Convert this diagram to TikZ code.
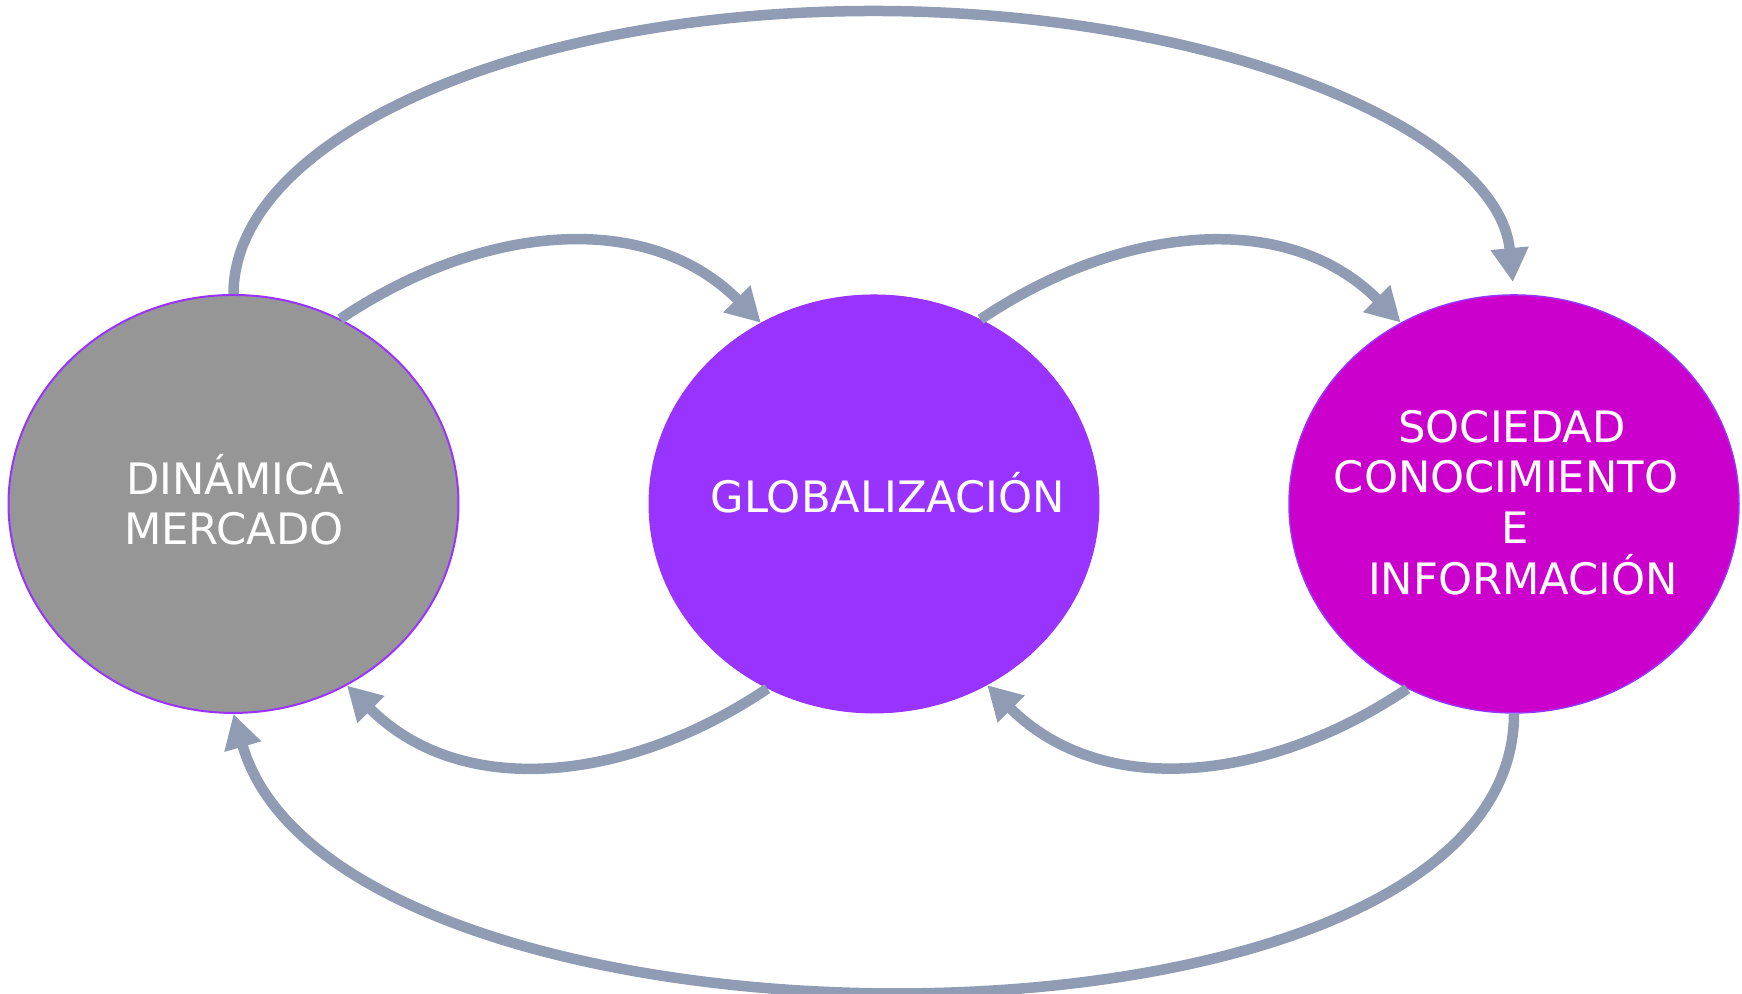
\documentclass[tikz,border=0pt]{standalone}
\usepackage{fontspec}
\setmainfont{DejaVu Sans}
\usetikzlibrary{shapes.geometric,arrows.meta}
\definecolor{arrowgray}{HTML}{8F9CB3}
\definecolor{dmgray}{HTML}{969696}
\definecolor{violeta}{HTML}{9933FF}
\definecolor{magenta2}{HTML}{CC00CC}
\tikzset{
  bubble/.style={ellipse, minimum width=45pt, minimum height=41.8pt, inner sep=0pt},
  lbl/.style={text=white, font=\fontsize{4.33}{5.1}\selectfont, anchor=base, inner sep=0pt},
  conn/.style={draw=arrowgray, line width=1.05pt, -{Triangle[length=3.4pt,width=3.6pt]}},
}
\begin{document}
\begin{tikzpicture}[x=0.1pt,y=0.1pt]
\useasboundingbox (0,0) rectangle (1742,994);
\node[bubble, fill=dmgray, draw=violeta, line width=0.2pt] (dm) at (233.5,490) {};
\node[bubble, fill=violeta, draw=violeta, line width=0.1pt] (glob) at (874,490) {};
\node[bubble, fill=magenta2, draw=violeta, line width=0.15pt] (sci) at (1514,490) {};

\node[lbl] (t1) at (235.5,499) {DINÁMICA};
\node[lbl] (t2) at (234,449) {MERCADO};
\node[lbl] (t3) at (888,481) {GLOBALIZACIÓN};
\node[lbl] (t4) at (1512,551) {SOCIEDAD};
\node[lbl] (t5) at (1506,501) {CONOCIMIENTO};
\node[lbl] (t6) at (1515,450) {E};
\node[lbl] (t7) at (1523,399) {INFORMACIÓN};

\draw[conn] (dm.60) to[out=34,in=135,looseness=1.0] (glob.122);
\draw[conn] (glob.60) to[out=34,in=135,looseness=1.0] (sci.122);
\draw[conn] (glob.240) to[out=214,in=315,looseness=1.0] (dm.302);
\draw[conn] (sci.240) to[out=214,in=315,looseness=1.0] (glob.302);

\draw[conn] (dm.north) arc[start angle=180, end angle=2.4, x radius=64pt, y radius=28.3pt];
\draw[conn] (sci.south) to[out=270,in=286,out distance=37pt,in distance=38pt] (dm.south);
\end{tikzpicture}
\end{document}
